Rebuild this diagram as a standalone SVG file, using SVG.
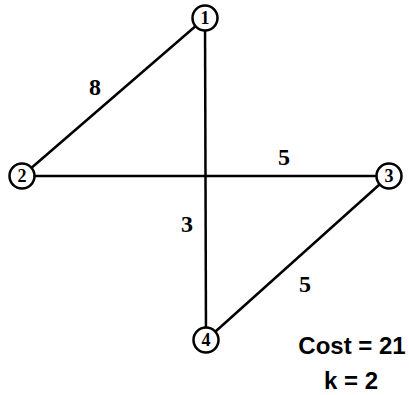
<svg xmlns="http://www.w3.org/2000/svg" width="409" height="395" viewBox="0 0 409 395">
<style>
.e{stroke:#000;stroke-width:2.5;fill:none}
.n circle{fill:#fff;stroke:#000;stroke-width:2.5}
.n text{font-family:"Liberation Serif",serif;font-weight:bold;font-size:18px;text-anchor:middle}
.w{font-family:"Liberation Serif",serif;font-weight:bold;font-size:24px;text-anchor:middle}
.c{font-family:"Liberation Sans",Arial,sans-serif;font-weight:bold;font-size:24px;text-anchor:middle}
</style>
<rect width="409" height="395" fill="#fff"/>
<g id="edges">
<line class="e" x1="205" y1="18" x2="22" y2="176"/>
<line class="e" x1="205" y1="18" x2="206" y2="340"/>
<line class="e" x1="22" y1="176" x2="389" y2="176"/>
<line class="e" x1="389" y1="176" x2="206" y2="340"/>
</g>
<g id="node1" class="n"><circle cx="205" cy="18" r="12.5"/><text x="205" y="24">1</text></g>
<g id="node2" class="n"><circle cx="22" cy="176" r="12.5"/><text x="22" y="182">2</text></g>
<g id="node3" class="n"><circle cx="389" cy="176" r="12.5"/><text x="389" y="182">3</text></g>
<g id="node4" class="n"><circle cx="206" cy="340" r="12.5"/><text x="206" y="346">4</text></g>
<g id="labels">
<text class="w" x="95" y="95">8</text>
<text class="w" x="284" y="165">5</text>
<text class="w" x="187" y="232">3</text>
<text class="w" x="305" y="292">5</text>
<text class="c" x="352" y="354">Cost = 21</text>
<text class="c" x="351" y="389">k = 2</text>
</g>
</svg>
